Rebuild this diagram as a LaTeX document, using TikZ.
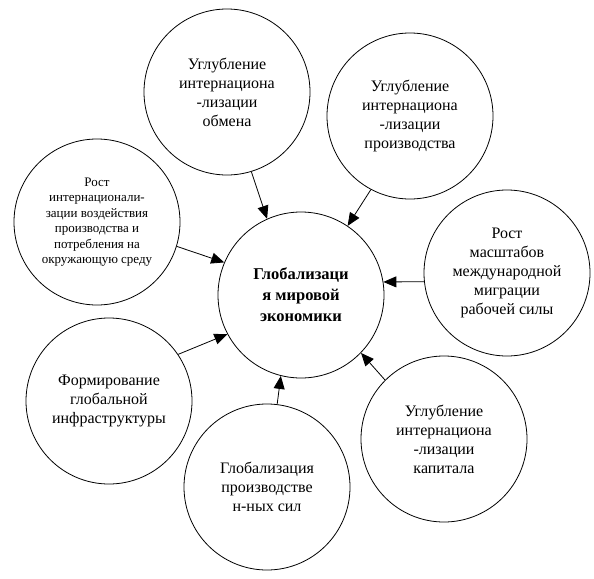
\documentclass[tikz,border=0pt]{standalone}
\usepackage{fontspec}
\setmainfont{Liberation Serif}
\usetikzlibrary{arrows.meta}

\begin{document}
\begin{tikzpicture}[
    x=1pt, y=-1pt,
    bubble/.style={draw, circle, minimum size=166pt, inner sep=0pt,
                   align=center, font=\fontsize{16}{19}\selectfont},
    small/.style={font=\fontsize{13}{15.5}\selectfont},
    hub/.style={bubble, font=\fontsize{16.5}{21}\selectfont\bfseries},
    >={Triangle[length=13pt, width=11pt]},
    line width=0.8pt
  ]
  \useasboundingbox (0,0) rectangle (594,578);

  % Centre
  \node[hub] (glob) at (301,295) {Глобализаци\\я мировой\\экономики};

  % Surrounding factors
  \node[bubble] (exch) at (227,92)
    {Углубление\\интернациона\\-лизации\\обмена};
  \node[bubble] (prod) at (410,116)
    {Углубление\\интернациона\\-лизации\\производства};
  \node[bubble, small] (envi) at (97,222)
    {Рост\\интернационали-\\зации воздействия\\производства и\\потребления на\\окружающую среду};
  \node[bubble] (migr) at (507,273)
    {Рост\\масштабов\\международной\\миграции\\рабочей силы};
  \node[bubble] (infr) at (109,401)
    {Формирование\\глобальной\\инфраструктуры};
  \node[bubble] (forc) at (267,487)
    {Глобализация\\производстве\\н-ных сил};
  \node[bubble] (capi) at (444,439)
    {Углубление\\интернациона\\-лизации\\капитала};

  % Arrows into the centre
  \draw[->] (exch.-73)  -- (glob.114);
  \draw[->] (prod.-118) -- (glob.56);
  \draw[->] (envi.-17)  -- (glob.157);
  \draw[->] (migr.186)  -- (glob.9);
  \draw[->] (capi.135)  -- (glob.-44);
  \draw[->] (forc.83)   -- (glob.-104);
  \draw[->] (infr.34)   -- (glob.-152);
\end{tikzpicture}
\end{document}
